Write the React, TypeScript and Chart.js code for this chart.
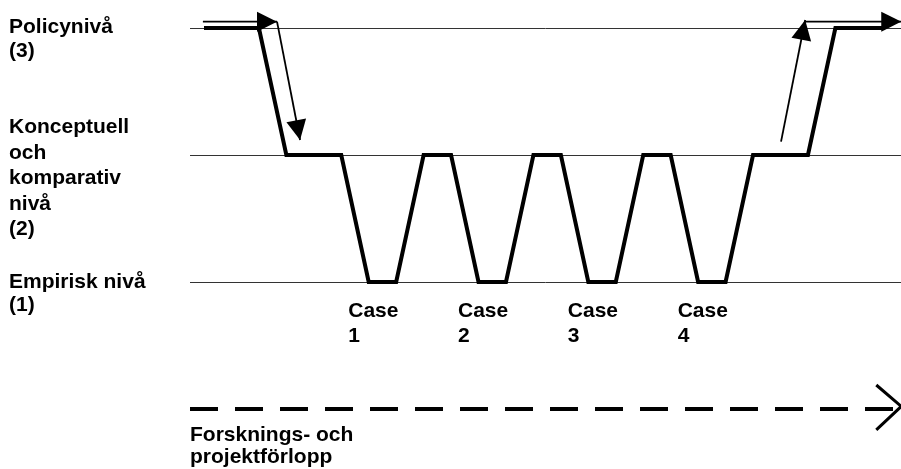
import { useEffect, useRef } from "react";
import { Chart, registerables } from "chart.js";

Chart.register(...registerables);

// ---- data (chart units: x = process steps, y = level 0..3) ----
const levelValues = [1, 2, 3];
const levelLabels = [
  ["Empirisk nivå", "(1)"],
  ["Konceptuell", "och", "komparativ", "nivå", "(2)"],
  ["Policynivå", "(3)"],
];

const pathX = [0, 2, 3, 5, 6, 7, 8, 9, 10, 11, 12, 13, 14, 15, 16, 17, 18, 19, 20, 22, 23, 24.8];
const pathY = [3, 3, 2, 2, 1, 1, 2, 2, 1, 1, 2, 2, 1, 1, 2, 2, 1, 1, 2, 2, 3, 3];

const caseLabels = [
  ["Case", "1"],
  ["Case", "2"],
  ["Case", "3"],
  ["Case", "4"],
];
const caseStartX = [6, 10, 14, 18];

const arrowInX = [-0.04, 2.66];
const arrowInY = [3.05, 3.05];
const arrowDownX = [2.66, 3.5];
const arrowDownY = [3.05, 2.118];
const arrowUpX = [21.02, 21.9];
const arrowUpY = [2.105, 3.063];
const arrowOutX = [21.9, 25.4];
const arrowOutY = [3.05, 3.05];

const timeX = [-0.51, 25.4];
const timeY = [0, 0];
const chevronX = [24.49, 25.4, 24.49];
const chevronY = [0.189, 0.02, -0.165];
const timeLabel = ["Forsknings- och", "projektförlopp"];

const toPoints = (xs: number[], ys: number[]) => xs.map((x, i) => ({ x, y: ys[i] }));

const FONT = 'bold 21px "Liberation Sans", Arial, sans-serif';

const arrowHeadPlugin = {
  id: "arrowHeads",
  afterDatasetsDraw(chart: any) {
    const ctx = chart.ctx;
    chart.data.datasets.forEach((ds: any, i: number) => {
      if (!ds.arrowHead) return;
      const pts = chart.getDatasetMeta(i).data;
      const a = pts[pts.length - 2];
      const b = pts[pts.length - 1];
      const ang = Math.atan2(b.y - a.y, b.x - a.x);
      const len = 20;
      const hw = 10;
      const bx = b.x - len * Math.cos(ang);
      const by = b.y - len * Math.sin(ang);
      const nx = -Math.sin(ang);
      const ny = Math.cos(ang);
      ctx.save();
      ctx.fillStyle = "#000";
      ctx.beginPath();
      ctx.moveTo(b.x, b.y);
      ctx.lineTo(bx + nx * hw, by + ny * hw);
      ctx.lineTo(bx - nx * hw, by - ny * hw);
      ctx.closePath();
      ctx.fill();
      ctx.restore();
    });
  },
};

const labelPlugin = {
  id: "diagramLabels",
  afterDraw(chart: any) {
    const ctx = chart.ctx;
    const xs = chart.scales.x;
    const ys = chart.scales.y;
    ctx.save();
    ctx.font = FONT;
    ctx.fillStyle = "#000";
    ctx.textAlign = "left";
    ctx.textBaseline = "alphabetic";
    // level labels (left)
    const firstOffset = [5.5, -22, 5.3];
    const lineH = [23.5, 25.5, 23.3];
    levelValues.forEach((v, i) => {
      const y0 = ys.getPixelForValue(v) + firstOffset[i];
      levelLabels[i].forEach((line, j) => ctx.fillText(line, 9, y0 + j * lineH[i]));
    });
    // case labels
    const yCase = ys.getPixelForValue(1) + 35;
    caseLabels.forEach((lines, i) => {
      const x = xs.getPixelForValue(caseStartX[i]) - 20.5;
      lines.forEach((line, j) => ctx.fillText(line, x, yCase + j * 25));
    });
    // time axis label
    const yT = ys.getPixelForValue(0) + 32;
    timeLabel.forEach((line, j) => ctx.fillText(line, chart.chartArea.left, yT + j * 22));
    ctx.restore();
  },
};

export default function App() {
  const ref = useRef<HTMLCanvasElement | null>(null);

  useEffect(() => {
    if (!ref.current) return;
    const thin = { borderColor: "#000", borderWidth: 1.8, pointRadius: 0, tension: 0, fill: false, clip: false };
    const chart = new Chart(ref.current, {
      type: "line",
      data: {
        datasets: [
          {
            label: "Förlopp",
            data: toPoints(pathX, pathY),
            borderColor: "#000",
            borderWidth: 4,
            borderJoinStyle: "miter",
            borderCapStyle: "butt",
            pointRadius: 0,
            tension: 0,
            fill: false,
            clip: false,
          } as any,
          { label: "in", data: toPoints(arrowInX, arrowInY), ...thin, arrowHead: true } as any,
          { label: "ned", data: toPoints(arrowDownX, arrowDownY), ...thin, arrowHead: true } as any,
          { label: "upp", data: toPoints(arrowUpX, arrowUpY), ...thin, arrowHead: true } as any,
          { label: "ut", data: toPoints(arrowOutX, arrowOutY), ...thin, arrowHead: true } as any,
          {
            label: "tid",
            data: toPoints(timeX, timeY),
            borderColor: "#000",
            borderWidth: 4,
            borderDash: [28, 17],
            borderCapStyle: "butt",
            pointRadius: 0,
            tension: 0,
            fill: false,
            clip: false,
          } as any,
          {
            label: "pil",
            data: toPoints(chevronX, chevronY),
            borderColor: "#000",
            borderWidth: 3,
            borderJoinStyle: "miter",
            pointRadius: 0,
            tension: 0,
            fill: false,
            clip: false,
          } as any,
        ],
      },
      options: {
        responsive: false,
        animation: false,
        layout: { padding: { left: 190, right: 0, top: 2.6, bottom: 9.2 } },
        plugins: { legend: { display: false }, tooltip: { enabled: false } },
        scales: {
          x: { type: "linear", min: -0.51, max: 25.39, display: false },
          y: {
            type: "linear",
            min: -0.4,
            max: 3.2,
            afterBuildTicks: (scale: any) => {
              scale.ticks = levelValues.map((v) => ({ value: v }));
            },
            ticks: { display: false },
            grid: { color: "#333", lineWidth: 1, drawTicks: false },
            border: { display: false },
          },
        },
      },
      plugins: [arrowHeadPlugin, labelPlugin],
    });
    return () => chart.destroy();
  }, []);

  return (
    <div style={{ position: "absolute", left: 0, top: 0, width: 901, height: 469, background: "#fff" }}>
      <canvas ref={ref} width={901} height={469} />
    </div>
  );
}
